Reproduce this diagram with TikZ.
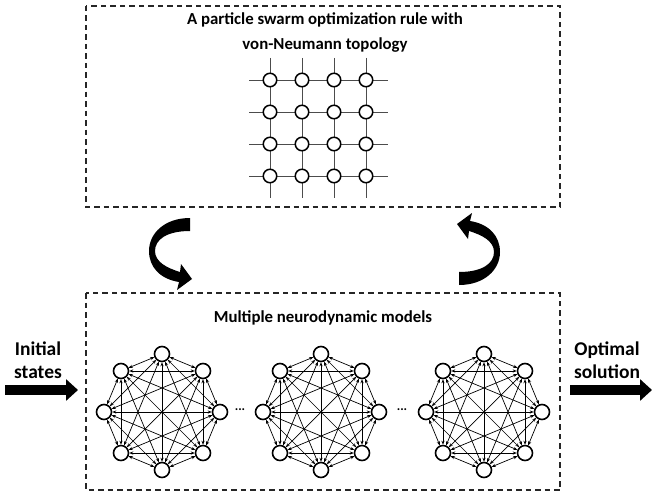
\documentclass[tikz,border=0pt]{standalone}
\usepackage{fontspec}
\setmainfont{Carlito}
\usetikzlibrary{arrows.meta,calc}
\begin{document}
\begin{tikzpicture}[x=1pt,y=-1pt,
  dbox/.style={draw=black!85, dash pattern=on 5.5pt off 4pt, line width=1.3pt},
  gnode/.style={circle, draw, line width=1.5pt, fill=white, minimum size=13.5pt, inner sep=0pt},
  gline/.style={draw=black!70, line width=1pt},
  knode/.style={circle, draw, line width=1.6pt, fill=white, minimum size=15pt, inner sep=0pt},
  kedge/.style={line width=0.7pt, {Stealth[length=4pt,width=3.2pt]}-{Stealth[length=4pt,width=3.2pt]}},
  ttl/.style={font=\bfseries\fontsize{16.8}{25}\selectfont, align=center},
  side/.style={font=\bfseries\fontsize{19.5}{23}\selectfont, align=center},
  fatarrow/.style={line width=10pt, -{Triangle[length=12pt,width=21pt]}},
  curvearrow/.style={fill=black}]
\useasboundingbox (0,0) rectangle (653,495);

% dashed boxes
\coordinate (tbA) at (86,6);
\coordinate (tbB) at (560,207);
\coordinate (bbA) at (86,293);
\coordinate (bbB) at (560,490);
\draw[dbox] (tbA) rectangle (tbB);
\draw[dbox] (bbA) rectangle (bbB);

% titles
\node[ttl] (title) at (325,32.5) {A particle swarm optimization rule with\\von-Neumann topology};
\node[ttl] (title2) at (323,318) {Multiple neurodynamic models};

% von Neumann grid
\foreach \i in {1,...,4}{
  \pgfmathsetmacro\gx{238+32*\i}
  \pgfmathsetmacro\gy{48+32*\i}
  \coordinate (vt\i) at (\gx,58);
  \coordinate (vb\i) at (\gx,198);
  \coordinate (hl\i) at (249,\gy);
  \coordinate (hr\i) at (388,\gy);
  \draw[gline] (vt\i) -- (vb\i);
  \draw[gline] (hl\i) -- (hr\i);
}
\foreach \i in {1,...,4}{
  \foreach \j in {1,...,4}{
    \node[gnode] (g\i\j) at ({238+32*\i},{48+32*\j}) {};
  }
}

% complete graphs
\foreach \cx/\nm in {162/A,321/B,484/C}{
  \foreach \k in {0,...,7}{
    \node[knode] (\nm\k) at ($(\cx,412)+({90+45*\k}:58)$) {};
  }
}
\foreach \nm in {A,B,C}{
  \foreach \i in {0,...,6}{
    \pgfmathtruncatemacro\s{\i+1}
    \foreach \j in {\s,...,7}{
      \draw[kedge] (\nm\i) -- (\nm\j);
    }
  }
}
\node[font=\bfseries\fontsize{13}{13}\selectfont] (dots1) at (240,410) {...};
\node[font=\bfseries\fontsize{13}{13}\selectfont] (dots2) at (402,410) {...};

% side labels and arrows
\node[side] (init) at (38,360) {Initial\\states};
\node[side] (opt) at (607,360) {Optimal\\solution};
\coordinate (ia) at (5,390);
\coordinate (ib) at (78,390);
\coordinate (oa) at (570,390);
\coordinate (ob) at (652,390);
\draw[fatarrow] (ia) -- (ib);
\draw[fatarrow] (oa) -- (ob);

% curved arrows
\def\curvedpath{(190,218) .. controls (165,218) and (149,233) .. (149,251)
  .. controls (149,267) and (160,279) .. (179,282)
  -- (177,290) -- (192,279) -- (181,264) -- (180,272)
  .. controls (167,268) and (155,262) .. (155,251)
  .. controls (155,240) and (166,231) .. (190,231) -- cycle}
\fill[curvearrow] \curvedpath;
\begin{scope}[rotate around={180:(324.5,251.5)}]
  \fill[curvearrow] \curvedpath;
\end{scope}
\end{tikzpicture}
\end{document}
